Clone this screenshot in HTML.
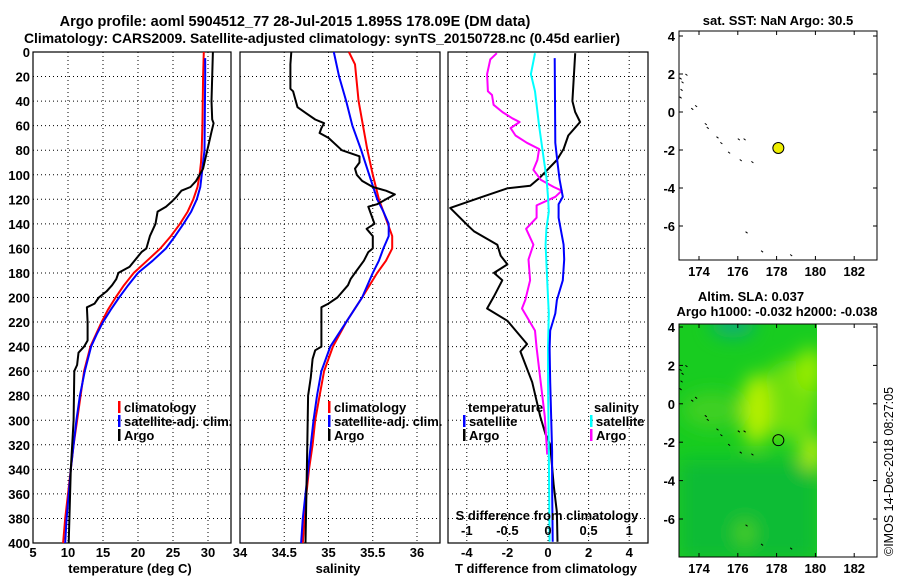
<!DOCTYPE html>
<html><head><meta charset="utf-8">
<style>
html,body{margin:0;padding:0;background:#fff;}
svg{display:block;font-family:"Liberation Sans",Arial,sans-serif;font-weight:bold;}
</style></head>
<body>
<svg id="c" width="900" height="580" viewBox="0 0 900 580" xmlns="http://www.w3.org/2000/svg">
<defs>
<filter id="blur" x="-50%" y="-50%" width="200%" height="200%"><feGaussianBlur stdDeviation="9"/></filter>
<clipPath id="sla-clip"><rect x="679" y="324" width="138" height="233"/></clipPath>
</defs>
<text x="295" y="26" font-size="14.5" text-anchor="middle">Argo profile: aoml 5904512_77 28-Jul-2015 1.895S 178.09E (DM data)</text>
<text x="322" y="43" font-size="13.9" text-anchor="middle">Climatology: CARS2009. Satellite-adjusted climatology: synTS_20150728.nc (0.45d earlier)</text>
<text x="778" y="25" font-size="13" text-anchor="middle">sat. SST: NaN Argo: 30.5</text>
<text x="751" y="301" font-size="13" text-anchor="middle">Altim. SLA: 0.037</text>
<text x="777" y="316" font-size="13" text-anchor="middle">Argo h1000: -0.032 h2000: -0.038</text>
<text transform="translate(893,556) rotate(-90)" font-size="12.5" font-weight="normal">©IMOS 14-Dec-2018 08:27:05</text>
<g id="g"></g>
</svg>
<script>
// ---------- data ----------
const tempClimDepth = [0,20,60,80,90,100,110,120,130,140,150,160,170,180,190,200,210,220,230,240,260,280,300,320,340,360,380,400];
const tempClim      = [29.4,29.3,29.2,29.1,29.0,28.8,28.5,27.9,27.1,26.0,24.7,23.2,21.3,19.4,18.0,16.8,15.7,14.8,14.0,13.2,12.3,11.8,11.3,10.8,10.4,10.0,9.6,9.3];
const tempSatDepth  = [5,20,80,100,110,120,130,140,150,160,170,180,190,200,210,220,230,240,260,280,300,320,340,360,380,400];
const tempSat       = [29.6,29.6,29.5,29.1,28.9,28.4,27.6,26.5,25.3,24.0,22.1,20.0,18.6,17.3,16.1,15.0,14.1,13.3,12.4,11.7,11.2,10.8,10.4,10.1,9.8,9.6];
const tempArgoDepth = [0,20,40,55,58,65,75,85,95,100,105,110,113,118,122,126,130,140,150,160,163,170,175,180,185,190,195,200,205,208,220,235,240,245,255,260,300,320,340,360,380,400];
const tempArgo      = [30.7,30.6,30.5,30.6,30.8,30.5,30.1,29.7,29.3,28.8,28.3,27.5,26.2,25.5,24.8,24.0,22.8,22.5,21.7,21.2,20.5,19.5,18.8,17.2,16.9,16.3,15.5,14.4,13.8,12.7,12.8,12.8,12.3,11.5,11.3,10.9,10.8,10.6,10.4,10.3,10.2,10.1];

const salClimDepth = [0,10,40,80,100,120,140,150,160,170,180,200,220,240,260,280,300,320,340,360,380,400];
const salClim      = [35.23,35.3,35.34,35.44,35.5,35.57,35.67,35.72,35.72,35.65,35.55,35.38,35.2,35.05,34.95,34.9,34.85,34.82,34.78,34.75,34.73,34.71];
const salSatDepth  = [0,20,40,60,80,100,120,130,140,150,160,170,180,200,220,240,260,280,300,320,340,360,380,400];
const salSat       = [35.06,35.12,35.2,35.27,35.37,35.46,35.55,35.62,35.68,35.68,35.62,35.57,35.5,35.38,35.2,35.02,34.92,34.87,34.83,34.8,34.77,34.74,34.71,34.69];
const salArgoDepth = [0,10,30,32,40,45,50,55,58,62,66,70,80,85,90,95,100,105,110,113,116,120,124,126,130,140,144,150,160,163,170,180,185,190,200,205,208,240,243,250,265,280,320,360,400];
const salArgo      = [34.58,34.57,34.57,34.6,34.63,34.65,34.75,34.85,34.95,34.92,34.9,35.0,35.15,35.35,35.35,35.3,35.32,35.38,35.5,35.65,35.75,35.65,35.55,35.45,35.47,35.52,35.43,35.5,35.5,35.45,35.4,35.3,35.25,35.22,35.1,35.0,34.92,34.92,34.85,34.82,34.8,34.77,34.76,34.75,34.74];

const dTArgoDepth = [1,40,49,57,68,79,88,102,109,111,118,127,141,146,157,166,173,180,186,199,209,219,238,244,269,297,311,320,353,375,399];
const dTArgo      = [1.34,1.2,1.34,1.58,1.0,0.77,0.44,-0.38,-0.87,-2.0,-3.23,-4.82,-3.97,-3.65,-2.5,-2.33,-2.0,-2.66,-2.25,-2.66,-3.0,-2.0,-1.03,-1.36,-0.78,-0.38,-0.13,0.11,0.28,0.44,0.47];
const dTSatDepth  = [5,74,90,104,118,124,135,157,169,186,202,213,227,241,269,325,353,399];
const dTSat       = [0.33,0.36,0.47,0.57,0.73,0.52,0.52,0.77,0.8,0.73,0.44,0.36,0.11,0.08,0.11,0.2,0.2,0.23];
const dSSatDepth  = [1,18,32,60,88,102,118,130,144,157,186,213,241,269,325,399];
const dSSat       = [-0.16,-0.21,-0.16,-0.11,-0.05,-0.02,0.0,0.01,-0.02,-0.03,-0.01,0.01,0.0,0.0,0.01,0.02];
const dSArgoDepth = [1,6,18,32,35,43,49,54,57,62,68,74,79,88,96,104,110,113,118,125,135,144,157,169,186,202,209,227,241,269,297,328];
const dSArgo      = [-0.63,-0.71,-0.75,-0.74,-0.69,-0.67,-0.56,-0.44,-0.35,-0.46,-0.4,-0.26,-0.11,-0.13,-0.18,-0.09,0.07,0.17,0.09,-0.14,-0.14,-0.27,-0.18,-0.24,-0.22,-0.28,-0.32,-0.16,-0.14,-0.09,-0.04,-0.01];

const depthTicks = [0,20,40,60,80,100,120,140,160,180,200,220,240,260,280,300,320,340,360,380,400];
const tempTicks = [5,10,15,20,25,30];
const salTicks = [34,34.5,35,35.5,36];
const dTTicks = [-4,-2,0,2,4];
const dSTicks = [-1,-0.5,0,0.5,1];
const lonTicks = [174,176,178,180,182];
const latTicks = [-6,-4,-2,0,2,4];
const argoLon = 178.09, argoLat = -1.895;
const coastLon = [173.0,173.1,173.3,173.6,173.8,174.3,174.4,174.9,175.1,175.5,176.0,176.3,176.7,176.1,176.4,177.2,178.7,173.05,173.0];
const coastLat = [1.8,1.6,2.0,0.2,0.35,-0.6,-0.8,-1.3,-1.6,-2.1,-1.4,-1.4,-2.6,-2.5,-6.3,-7.3,-7.5,1.2,0.8];

// ---------- helpers ----------
const NS = "http://www.w3.org/2000/svg";
const G = document.getElementById('g');
function mk(tag, attrs, parent){const e=document.createElementNS(NS,tag);for(const k in attrs)e.setAttribute(k,attrs[k]);(parent||G).appendChild(e);return e;}
const dTop=52, dBot=543;
const FS=13;
const yD = d => dTop + d*(dBot-dTop)/400;
const xT = v => 33 + (v-5)*7.0;
const xS = v => 240 + (v-34)*88.5;
const xDT = v => 548 + v*20.3;
const xDS = v => 548 + v*81.2;
const lonX = v => 699 + (v-174)*19.4;
const latY1 = v => 36 - (v-4)*19.0;
const latY2 = v => 327 - (v-4)*19.2;

function panel(name){
  const g=mk('g',{});
  
  
  return g;
}
function grid(g,x0,x1,xs,fmt,xf,labelY){
  depthTicks.forEach(d=>{
    if(d>0&&d<400){const l=mk('line',{x1:x0,x2:x1,y1:yD(d),y2:yD(d),stroke:'#000','stroke-width':1,'stroke-dasharray':'1,3'},g);
    
    }
  });
  xs.forEach(v=>{const x=xf(v); if(x>x0+1&&x<x1-1){
    const l=mk('line',{x1:x,x2:x,y1:dTop,y2:dBot,stroke:'#000','stroke-width':1,'stroke-dasharray':'1,3'},g);
    
    }
    if(labelY){const t=mk('text',{x:x,y:labelY,'font-size':FS,'text-anchor':'middle'},g);t.textContent=fmt(v);
    
    }
  });
  const r=mk('rect',{x:x0,y:dTop,width:x1-x0,height:dBot-dTop,fill:'none',stroke:'#000','stroke-width':1.2},g);
  
  
}
function series(g,depths,vals,xf,color,name,w){
  const pts=depths.map((d,i)=>xf(vals[i]).toFixed(1)+','+yD(d).toFixed(1)).join(' ');
  const p=mk('polyline',{points:pts,fill:'none',stroke:color,'stroke-width':w||2,'stroke-linejoin':'round'},g);
  
  
}
function legend(g,x,y,color,label,name){
  const r=mk('rect',{x:x,y:y-11,width:2.5,height:12,fill:color},g);
  
  
  const t=mk('text',{x:x+6,y:y,'font-size':FS},g); t.textContent=label;
  
  
}
function txt(g,x,y,s,anchor,name,size){const t=mk('text',{x:x,y:y,'font-size':size||FS,'text-anchor':anchor||'start'},g);t.textContent=s;
  
  return t;}

// depth axis labels
const ya=panel('depth-axis');
depthTicks.forEach(d=>{txt(ya,30,yD(d)+5,String(d),'end','y-tick-label');});

const tickY=557, titleY=573;
// panel 1 temperature
const p1=panel('temperature-panel');
grid(p1,33,231,tempTicks,v=>String(v),xT,tickY);
series(p1,tempClimDepth,tempClim,xT,'#f00','temp-climatology-line');
series(p1,tempSatDepth,tempSat,xT,'#00f','temp-satellite-line');
series(p1,tempArgoDepth,tempArgo,xT,'#000','temp-argo-line');
txt(p1,130,titleY,'temperature (deg C)','middle','x-axis-title-temperature');
legend(p1,118,412,'#f00','climatology','legend-climatology');
legend(p1,118,426,'#00f','satellite-adj. clim.','legend-satellite-adj');
legend(p1,118,440,'#000','Argo','legend-argo');

// panel 2 salinity
const p2=panel('salinity-panel');
grid(p2,240,440,salTicks,v=>String(v),xS,tickY);
series(p2,salClimDepth,salClim,xS,'#f00','sal-climatology-line');
series(p2,salSatDepth,salSat,xS,'#00f','sal-satellite-line');
series(p2,salArgoDepth,salArgo,xS,'#000','sal-argo-line');
txt(p2,338,titleY,'salinity','middle','x-axis-title-salinity');
legend(p2,328,412,'#f00','climatology','legend-climatology');
legend(p2,328,426,'#00f','satellite-adj. clim.','legend-satellite-adj');
legend(p2,328,440,'#000','Argo','legend-argo');

// panel 3 differences
const p3=panel('difference-panel');
grid(p3,448,648,dTTicks,v=>String(v),xDT,tickY);
series(p3,dTArgoDepth,dTArgo,xDT,'#000','dT-argo-line');
series(p3,dSArgoDepth,dSArgo,xDS,'#f0f','dS-argo-line');
series(p3,dSSatDepth,dSSat,xDS,'#0ff','dS-satellite-line');
series(p3,dTSatDepth,dTSat,xDT,'#00f','dT-satellite-line');
txt(p3,468,412,'temperature','start','legend-temperature-heading');
legend(p3,463,426,'#00f','satellite','legend-t-satellite');
legend(p3,463,440,'#000','Argo','legend-t-argo');
txt(p3,594,412,'salinity','start','legend-salinity-heading');
legend(p3,590,426,'#0ff','satellite','legend-s-satellite');
legend(p3,590,440,'#f0f','Argo','legend-s-argo');
txt(p3,547,520,'S difference from climatology','middle','s-axis-title');
dSTicks.forEach(v=>txt(p3,xDS(v),535,String(v),'middle','s-tick-label'));
txt(p3,546,titleY,'T difference from climatology','middle','x-axis-title-dT');

// maps
function mapFrame(g,top,bot,latY){
  const r=mk('rect',{x:679,y:top,width:198,height:bot-top,fill:'none',stroke:'#000','stroke-width':1},g);
  
  
  lonTicks.forEach(v=>{const x=lonX(v);
    mk('line',{x1:x,x2:x,y1:bot,y2:bot-4,stroke:'#000'},g);mk('line',{x1:x,x2:x,y1:top,y2:top+4,stroke:'#000'},g);
    txt(g,x,bot+16,String(v),'middle','lon-tick-label');});
  latTicks.forEach(v=>{const y=latY(v); if(y<top-3) return;
    mk('line',{x1:679,x2:683,y1:y,y2:y,stroke:'#000'},g);mk('line',{x1:877,x2:873,y1:y,y2:y,stroke:'#000'},g);
    txt(g,675,y+5,String(v),'end','lat-tick-label');});
}
function coast(g,latY){
  coastLon.forEach((lo,i)=>{const x=lonX(lo),y=latY(coastLat[i]);
    const c=mk('line',{x1:x,y1:y,x2:x+2,y2:y+1.5,stroke:'#000','stroke-width':1},g);
    
    });
}
const m1=panel('sst-map');
mapFrame(m1,31,260,latY1);
coast(m1,latY1);
const mk1=mk('circle',{cx:lonX(argoLon),cy:latY1(argoLat),r:5.5,fill:'#ee0',stroke:'#000','stroke-width':1},m1);



const m2=panel('sla-map');
const hm=mk('g',{'clip-path':'url(#sla-clip)'},m2);


mk('rect',{x:679,y:324,width:138,height:233,fill:'#18cc20'},hm);
const bl=mk('g',{filter:'url(#blur)'},hm);
mk('rect',{x:679,y:460,width:138,height:100,fill:'#10bc34'},bl);
mk('ellipse',{cx:733,cy:324,rx:22,ry:14,fill:'#10b070'},bl);
mk('ellipse',{cx:712,cy:410,rx:30,ry:18,fill:'#40d020'},bl);
mk('ellipse',{cx:790,cy:400,rx:30,ry:40,fill:'#70e010'},bl);
mk('ellipse',{cx:756,cy:410,rx:14,ry:36,fill:'#b8f000'},bl);
mk('ellipse',{cx:810,cy:370,rx:14,ry:22,fill:'#98ec00'},bl);
mk('ellipse',{cx:812,cy:452,rx:12,ry:18,fill:'#b0ea10'},bl);
mk('ellipse',{cx:745,cy:533,rx:9,ry:12,fill:'#50d020'},bl);
mapFrame(m2,324,557,latY2);
coast(m2,latY2);
const mk2=mk('circle',{cx:lonX(argoLon),cy:latY2(argoLat),r:5.5,fill:'none',stroke:'#000','stroke-width':1},m2);


</script>
</body></html>
